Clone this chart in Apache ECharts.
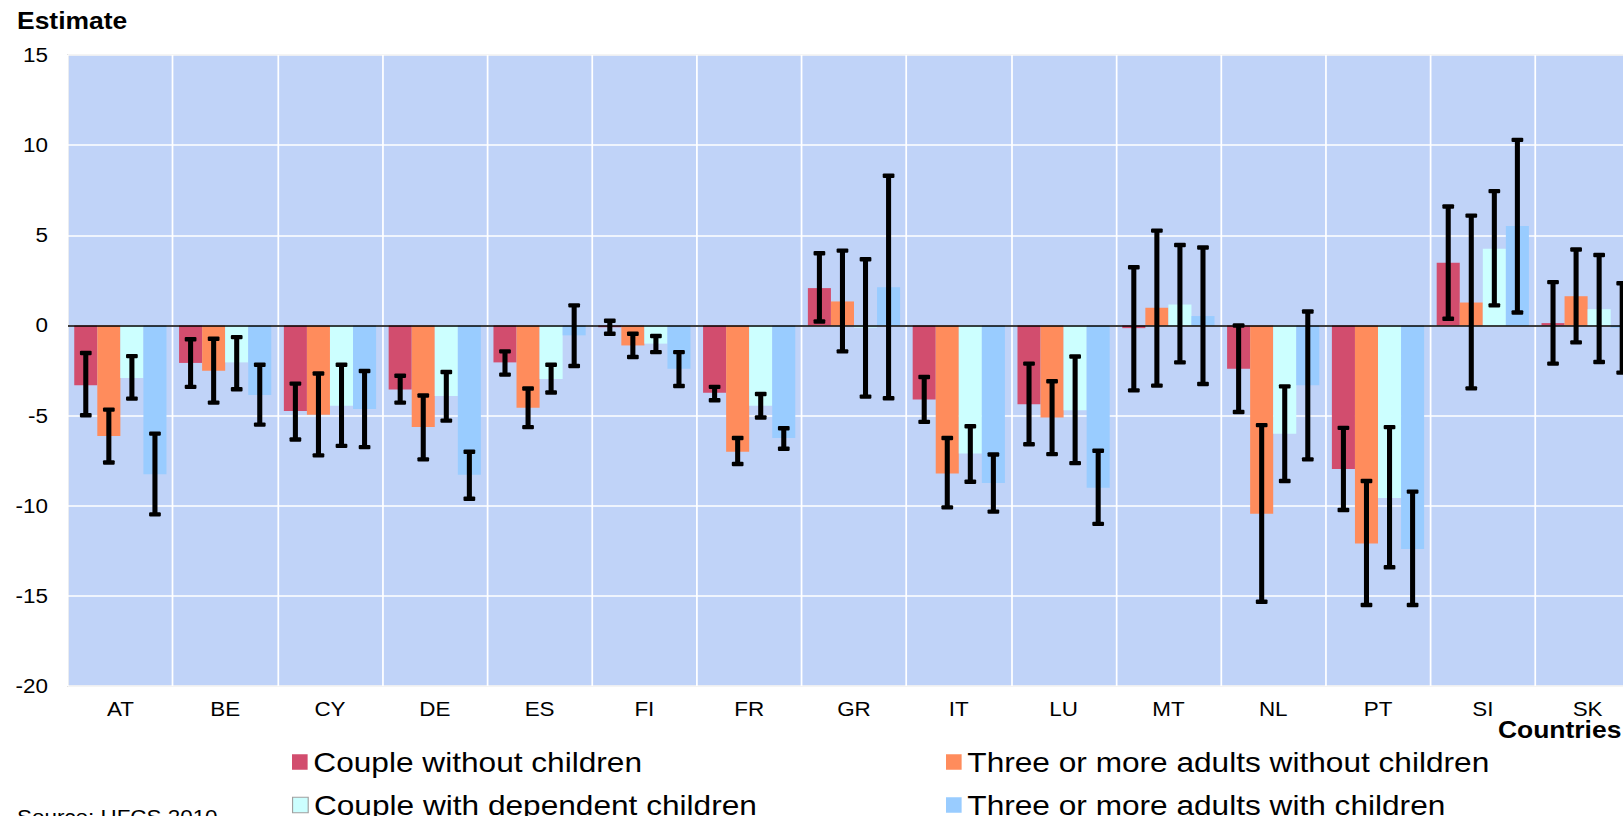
<!DOCTYPE html>
<html>
<head>
<meta charset="utf-8">
<script src="https://cdn.jsdelivr.net/npm/echarts@6/dist/echarts.min.js"></script>
<style>
  html, body { margin: 0; padding: 0; overflow: hidden; background: #fff; width: 1623px; height: 816px; }
  #chart { width: 1440px; height: 816px; transform: scaleX(1.15); transform-origin: 0 0; }
</style>
</head>
<body>
<div id="chart"></div>
<script>
// ---------- data ----------
var categories = ['AT','BE','CY','DE','ES','FI','FR','GR','IT','LU','MT','NL','PT','SI','SK'];
var seriesNames = ['Couple without children', 'Three or more adults without children',
                   'Couple with dependent children', 'Three or more adults with children'];
var yTicks = { min: -20, max: 15, interval: 5 };

var coupleNoChildren   = [-3.32, -2.08, -4.74, -3.56, -2.05, -0.10, -3.74,  2.07, -4.11, -4.37, -0.15, -2.40,  -7.97, 3.47,  0.13];
var threeNoChildren    = [-6.14, -2.51, -4.96, -5.64, -4.56, -1.11, -7.01,  1.33, -8.21, -5.11,  0.98, -10.44, -12.10, 1.27,  1.62];
var coupleDepChildren  = [-2.91, -2.05, -4.46, -3.91, -2.97, -1.01, -4.46, -0.12, -7.10, -4.70,  1.16, -6.01,  -9.57, 4.26,  0.90];
var threeWithChildren  = [-8.25, -3.86, -4.63, -8.28, -0.55, -2.40, -6.24,  2.12, -8.74, -9.00,  0.52, -3.32, -12.40, 5.52, -0.13];

var coupleNoChildrenLow   = [-4.98, -3.41, -6.33, -4.28, -2.73, -0.46, -4.15,  0.22, -5.35, -6.59, -3.60, -4.80, -10.24, 0.37, -2.12];
var coupleNoChildrenHigh  = [-1.53, -0.77, -3.23, -2.79, -1.44,  0.26, -3.41,  4.00, -2.86, -2.12,  3.23,  0.00,  -5.68, 6.60,  2.40];
var threeNoChildrenLow    = [-7.60, -4.28, -7.21, -7.43, -5.64, -1.75, -7.69, -1.44, -10.09, -7.14, -3.34, -15.33, -15.51, -3.49, -0.94];
var threeNoChildrenHigh   = [-4.67, -0.74, -2.67, -3.89, -3.50, -0.46, -6.24,  4.15, -6.24, -3.10,  5.26, -5.53,  -8.63, 6.09,  4.21];
var coupleDepChildrenLow  = [-4.06, -3.54, -6.68, -5.28, -3.72, -1.48, -5.11, -3.95, -8.67, -7.64, -2.05, -8.63, -13.41, 1.11, -2.03];
var coupleDepChildrenHigh = [-1.70, -0.65, -2.18, -2.58, -2.18, -0.59, -3.80,  3.67, -5.59, -1.72,  4.46, -3.38,  -5.64, 7.45,  3.91];
var threeWithChildrenLow  = [-10.48, -5.50, -6.75, -9.61, -2.25, -3.36, -6.84, -4.04, -10.33, -11.01, -3.25, -7.43, -15.51, 0.72, -2.62];
var threeWithChildrenHigh = [-6.00, -2.18, -2.53, -7.01,  1.11, -1.48, -5.70,  8.30, -7.16, -6.95,  4.32,  0.77,  -9.22, 10.29, 2.34];

// ---------- chart ----------
var colors = ['#D24D6E', '#FF8C5C', '#CCFFFF', '#99CCFF'];
var FONT = '"Liberation Sans", Arial, sans-serif';
var CAT_GAP = 0.12;

var values = [coupleNoChildren, threeNoChildren, coupleDepChildren, threeWithChildren];
var lows   = [coupleNoChildrenLow, threeNoChildrenLow, coupleDepChildrenLow, threeWithChildrenLow];
var highs  = [coupleNoChildrenHigh, threeNoChildrenHigh, coupleDepChildrenHigh, threeWithChildrenHigh];

function errSeries(idx) {
  var data = categories.map(function (c, i) { return [i, lows[idx][i], highs[idx][i]]; });
  return {
    type: 'custom',
    name: seriesNames[idx] + ' range',
    z: 10,
    silent: true,
    encode: { x: 0, y: [1, 2] },
    data: data,
    renderItem: function (params, api) {
      var c = api.value(0);
      var lo = api.coord([c, api.value(1)]);
      var hi = api.coord([c, api.value(2)]);
      var band = api.size([1, 0])[0];
      var bw = band * (1 - CAT_GAP) / 4;
      var x = lo[0] + (idx - 1.5) * bw;
      var stemW = 4.4, capW = 10.2, capH = 4.4;
      return {
        type: 'group',
        children: [
          { type: 'rect', shape: { x: x - stemW / 2, y: hi[1], width: stemW, height: lo[1] - hi[1] }, style: { fill: '#000' } },
          { type: 'rect', shape: { x: x - capW / 2, y: hi[1] - capH / 2, width: capW, height: capH, r: 1 }, style: { fill: '#000' } },
          { type: 'rect', shape: { x: x - capW / 2, y: lo[1] - capH / 2, width: capW, height: capH, r: 1 }, style: { fill: '#000' } }
        ]
      };
    }
  };
}

var barSeries = values.map(function (v, idx) {
  var s = {
    type: 'bar',
    name: seriesNames[idx],
    data: v,
    barGap: '0%',
    barCategoryGap: (CAT_GAP * 100) + '%',
    itemStyle: { color: colors[idx] },
    z: 2
  };
  if (idx === 0) {
    s.markLine = {
      silent: true,
      symbol: ['none', 'none'],
      label: { show: false },
      lineStyle: { color: '#000', width: 1.6, type: 'solid' },
      data: [{ yAxis: 0 }],
      z: 5
    };
  }
  return s;
});

var legendText = { fontSize: 27.5, color: '#000', fontFamily: FONT, lineHeight: 28 };
// legend slot positions (unscaled px): [left, top]
var legendSlots = [[253.9, 748], [822.6, 748], [253.9, 791], [822.6, 791]];

function oneLegend(idx) {
  var item = { name: seriesNames[idx] };
  if (idx === 2) item.itemStyle = { borderColor: '#A0A0A0', borderWidth: 1 };
  return {
    data: [item],
    left: legendSlots[idx][0], top: legendSlots[idx][1], padding: 0,
    itemWidth: 13.6, itemHeight: 15.5,
    icon: 'rect', selectedMode: false, textStyle: legendText
  };
}

var option = {
  animation: false,
  textStyle: { fontFamily: FONT },
  grid: {
    left: 59.1, right: 13.9, top: 55, bottom: 130,
    show: true, backgroundColor: '#C0D3F8', borderColor: '#A8A8A8', borderWidth: 1
  },
  xAxis: {
    type: 'category',
    data: categories,
    axisLine: { show: false },
    axisTick: { show: false },
    axisLabel: { fontSize: 19.5, color: '#000', margin: 13, fontFamily: FONT },
    splitLine: { show: true, lineStyle: { color: '#FFFFFF', width: 1.5 } }
  },
  yAxis: {
    type: 'value',
    min: yTicks.min, max: yTicks.max, interval: yTicks.interval,
    axisLine: { show: false },
    axisTick: { show: false },
    axisLabel: { fontSize: 19.5, color: '#000', margin: 17.4, fontFamily: FONT },
    splitLine: { show: true, lineStyle: { color: '#FFFFFF', width: 1.5 } }
  },
  legend: [oneLegend(0), oneLegend(1), oneLegend(2), oneLegend(3)],
  graphic: [
    { type: 'text', left: 14.8, top: 10, style: { text: 'Estimate', font: 'bold 23px ' + FONT, fill: '#000' } },
    { type: 'text', left: 1302.6, top: 718.5, style: { text: 'Countries', font: 'bold 23px ' + FONT, fill: '#000' } },
    { type: 'text', left: 14.8, top: 807, style: { text: 'Source: HFCS 2010', font: '19.5px ' + FONT, fill: '#000' } }
  ],
  series: barSeries.concat([errSeries(0), errSeries(1), errSeries(2), errSeries(3)])
};

var chart = echarts.init(document.getElementById('chart'), null, { renderer: 'svg' });
chart.setOption(option);
</script>
</body>
</html>
